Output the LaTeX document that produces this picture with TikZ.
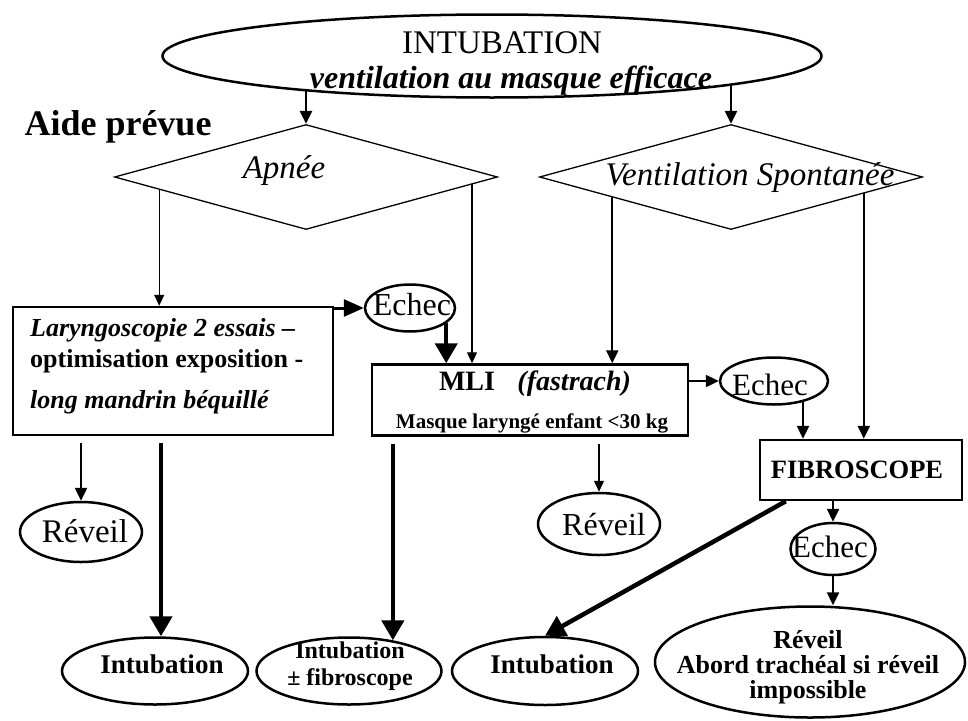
\documentclass[tikz,border=0pt]{standalone}
\usepackage{fontspec}
\setmainfont{Liberation Serif}
\usetikzlibrary{shapes.geometric,arrows.meta,calc}
\begin{document}
\begin{tikzpicture}[x=1pt,y=-1pt,
  ell/.style={ellipse,draw,line width=2.5pt,inner sep=0pt},
  boxn/.style={rectangle,draw,line width=2.5pt,inner sep=0pt},
  dia/.style={diamond,draw,line width=1.3pt,inner sep=0pt,aspect=3.65},
  txt/.style={inner sep=0pt,anchor=base},
  athin/.style={line width=1.3pt,-{Triangle[length=11pt,width=10pt]}},
  amed/.style={line width=2.4pt,-{Triangle[length=13pt,width=12pt]}},
  amedb/.style={line width=3pt,-{Triangle[length=20pt,width=17pt]}},
  athick/.style={line width=4.5pt,-{Triangle[length=20pt,width=22pt]}},
  fR/.style={font=\fontsize{#1}{#1}\selectfont},
  fB/.style={font=\fontsize{#1}{#1}\selectfont\bfseries},
  fI/.style={font=\fontsize{#1}{#1}\selectfont\itshape},
  fBI/.style={font=\fontsize{#1}{#1}\selectfont\bfseries\itshape},
]
\fill[white] (0,0) rectangle (968,720);
\useasboundingbox (0,0) rectangle (968,720);

% top
\node[ell,minimum width=659pt,minimum height=83pt] (top) at (492,56) {};
\node[txt,fR=33] (t1) at (502,53) {INTUBATION};
\node[txt,fBI=32] (t2) at (511,88) {ventilation au masque efficace};
\node[txt,fB=36] (aide) at (118,135) {Aide prévue};

% diamonds
\node[dia,minimum width=383pt,minimum height=105pt] (apnee) at (306,177) {};
\node[txt,fI=33] (apneet) at (284,178) {Apnée};
\node[dia,minimum width=383pt,minimum height=105pt] (vs) at (731,177) {};
\node[txt,fI=33] (vst) at (750,185) {Ventilation Spontanée};

% laryngoscopie box
\node[boxn,minimum width=320pt,minimum height=128pt] (lary) at (173,371) {};
\node[txt,anchor=base west,fBI=26] (l1) at (30,336) {Laryngoscopie 2 essais –};
\node[txt,anchor=base west,fB=26] (l2) at (30,367) {optimisation exposition -};
\node[txt,anchor=base west,fBI=26] (l3) at (30,408) {long mandrin béquillé};

% echec 1
\node[ell,minimum width=90pt,minimum height=47pt] (e1) at (410,308) {};
\node[txt,fR=32] (e1t) at (412,315) {Echec};

% MLI box
\node[boxn,minimum width=316pt,minimum height=71pt] (mli) at (530,400) {};
\node[txt,fB=28] (m1) at (535,390) {MLI\hspace{0.8em}\textit{(fastrach)}};
\node[txt,fB=21] (m2) at (532,428) {Masque laryngé enfant <30 kg};

% echec 2
\node[ell,minimum width=108pt,minimum height=47pt] (e2) at (774,381) {};
\node[txt,fR=31] (e2t) at (770,395) {Echec};

% fibroscope
\node[boxn,minimum width=202pt,minimum height=60pt] (fib) at (861,470) {};
\node[txt,fB=26.5] (fibt) at (857,478) {FIBROSCOPE};

% bottom nodes
\node[ell,minimum width=122pt,minimum height=60pt] (r1) at (81,532) {};
\node[txt,fR=33] (r1t) at (85,542) {Réveil};
\node[ell,minimum width=186pt,minimum height=67pt] (i1) at (155,671) {};
\node[txt,fB=27] (i1t) at (162,673) {Intubation};
\node[ell,minimum width=185pt,minimum height=67pt] (i2) at (349,671) {};
\node[txt,fB=24,align=center] (i2t) at (350,685) {Intubation\\[3pt]± fibroscope};
\node[ell,minimum width=122pt,minimum height=62pt] (r2) at (599,524) {};
\node[txt,fR=32] (r2t) at (604,535) {Réveil};
\node[ell,minimum width=186pt,minimum height=68pt] (i3) at (545,671) {};
\node[txt,fB=27] (i3t) at (552,673) {Intubation};
\node[ell,minimum width=85pt,minimum height=52pt] (e3) at (833,549) {};
\node[txt,fR=31] (e3t) at (830,557) {Echec};
\node[ell,minimum width=310pt,minimum height=111pt] (fin) at (810,662) {};
\node[txt,font=\fontsize{26}{25}\selectfont\bfseries,align=center] (ft) at (808,698) {Réveil\\Abord trachéal si réveil\\impossible};

% connectors
\draw[amed] ($(apnee.north |- top.south)+(0,-8)$) -- (apnee.north);
\draw[amed] ($(vs.north |- top.south)+(0,-13)$) -- (vs.north);
\coordinate (ap1) at ($(apnee.west)!0.236!(apnee.south)$);
\draw[athin] (ap1) -- (ap1 |- lary.north);
\coordinate (ap2) at ($(apnee.east)!0.136!(apnee.south)$);
\draw[athin] (ap2) -- (ap2 |- mli.north);
\coordinate (vs1) at ($(vs.west)!0.382!(vs.south)$);
\draw[amed] (vs1) -- (vs1 |- mli.north);
\coordinate (vs2) at ($(vs.east)!0.309!(vs.south)$);
\draw[amed] (vs2) -- (vs2 |- fib.north);
\draw[amedb] (lary.east |- e1.west) -- (e1.west);
\draw[athick] (e1.-23) -- (e1.-23 |- mli.north);
\draw[amed] (mli.east |- e2.west) -- (e2.west);
\draw[amed] (e2.-36) -- (e2.-36 |- fib.north);
\draw[amed] ($(lary.south -| r1.north)+(0,7)$) -- (r1.north);
\draw[athick] ($(lary.south -| i1.north)+(6,7)$) -- ($(i1.north)+(6,0)$);
\draw[athick] ($(i2.35 |- mli.south)+(0,7)$) -- (i2.35);
\draw[athin] ($(mli.south -| r2.north)+(0,7)$) -- (r2.north);
\draw[amed] (fib.south -| e3.north) -- (e3.north);
\draw[amed] (e3.south) -- (e3.south |- fin.north);
\draw[athick] ([xshift=27pt]fib.south west) -- (i3.north);
\end{tikzpicture}
\end{document}
